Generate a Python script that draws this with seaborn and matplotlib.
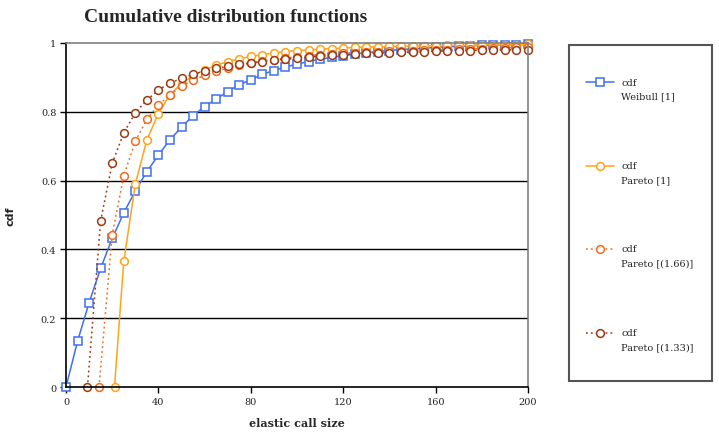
import matplotlib
matplotlib.use("Agg")
import matplotlib.pyplot as plt
import seaborn as sns
from matplotlib.lines import Line2D
from matplotlib.patches import Rectangle

# ---------------- data ----------------
x_weibull = [0, 5, 10, 15, 20, 25, 30, 35, 40, 45, 50, 55, 60, 65, 70, 75, 80, 85, 90, 95,
             100, 105, 110, 115, 120, 125, 130, 135, 140, 145, 150, 155, 160, 165, 170, 175,
             180, 185, 190, 195, 200]
y_weibull = [0, 0.133, 0.245, 0.345, 0.432, 0.506, 0.570, 0.626, 0.674, 0.719, 0.755, 0.789,
             0.815, 0.837, 0.859, 0.879, 0.893, 0.909, 0.920, 0.930, 0.939, 0.946, 0.953, 0.958,
             0.963, 0.968, 0.972, 0.975, 0.978, 0.981, 0.983, 0.985, 0.987, 0.989, 0.990, 0.992,
             0.993, 0.994, 0.995, 0.995, 0.997]

x_pareto1 = [21, 25, 30, 35, 40, 45, 50, 55, 60, 65, 70, 75, 80, 85, 90, 95, 100, 105, 110,
             115, 120, 125, 130, 135, 140, 145, 150, 155, 160, 165, 170, 175, 180, 185, 190,
             195, 200]
y_pareto1 = [0, 0.365, 0.590, 0.718, 0.795, 0.850, 0.882, 0.905, 0.922, 0.935, 0.946, 0.954,
             0.961, 0.966, 0.971, 0.975, 0.978, 0.980, 0.982, 0.984, 0.985, 0.987, 0.988, 0.989,
             0.990, 0.990, 0.991, 0.992, 0.992, 0.993, 0.993, 0.994, 0.994, 0.995, 0.995, 0.995,
             0.996]

x_pareto166 = [14.3, 20, 25, 30, 35, 40, 45, 50, 55, 60, 65, 70, 75, 80, 85, 90, 95, 100, 105,
               110, 115, 120, 125, 130, 135, 140, 145, 150, 155, 160, 165, 170, 175, 180, 185,
               190, 195, 200]
y_pareto166 = [0, 0.443, 0.614, 0.714, 0.778, 0.820, 0.849, 0.875, 0.892, 0.906, 0.918, 0.927,
               0.935, 0.941, 0.947, 0.952, 0.956, 0.960, 0.963, 0.966, 0.968, 0.970, 0.972, 0.974,
               0.975, 0.976, 0.977, 0.978, 0.979, 0.980, 0.981, 0.982, 0.983, 0.984, 0.985,
               0.986, 0.987, 0.988]

x_pareto133 = [9.3, 15, 20, 25, 30, 35, 40, 45, 50, 55, 60, 65, 70, 75, 80, 85, 90, 95, 100,
               105, 110, 115, 120, 125, 130, 135, 140, 145, 150, 155, 160, 165, 170, 175, 180,
               185, 190, 195, 200]
y_pareto133 = [0, 0.483, 0.650, 0.739, 0.797, 0.834, 0.863, 0.884, 0.897, 0.909, 0.919, 0.926,
               0.932, 0.938, 0.942, 0.946, 0.950, 0.953, 0.956, 0.959, 0.962, 0.964, 0.966,
               0.968, 0.970, 0.971, 0.972, 0.973, 0.974, 0.975, 0.976, 0.977, 0.977, 0.978,
               0.979, 0.979, 0.980, 0.980, 0.981]

series_labels = ["cdf\nWeibull [1]", "cdf\nPareto [1]", "cdf\nPareto [(1.66)]", "cdf\nPareto [(1.33)]"]
x_ticks = [0, 40, 80, 120, 160, 200]
y_ticks = [0, 0.2, 0.4, 0.6, 0.8, 1]
y_ticklabels = ["0", "0.2", "0.4", "0.6", "0.8", "1"]

# ---------------- styling ----------------
sns.set_theme(style="white")
plt.rcParams["font.family"] = ["DejaVu Serif", "DejaVu Sans"]

W, H = 719, 435
fig = plt.figure(figsize=(W / 100, H / 100), dpi=100)
ax = fig.add_axes([66 / W, 1 - 388 / H, (528 - 66) / W, (388 - 44) / H])

styles = [
    dict(x=x_weibull, y=y_weibull, color="#3f6ff0", marker="s", ls="-", ms=5.6),
    dict(x=x_pareto1, y=y_pareto1, color="#ffa31a", marker="o", ls="-", ms=5.6),
    dict(x=x_pareto166, y=y_pareto166, color="#f26b1d", marker="o", ls=(0, (1.2, 2.0)), ms=5.6),
    dict(x=x_pareto133, y=y_pareto133, color="#9c3a12", marker="o", ls=(0, (1.2, 2.0)), ms=5.6),
]

for st in styles:
    sns.lineplot(x=st["x"], y=st["y"], ax=ax, color=st["color"], marker=st["marker"],
                 linestyle=st["ls"], linewidth=1.1, markersize=st["ms"],
                 markerfacecolor="white", markeredgecolor=st["color"], markeredgewidth=1.1,
                 clip_on=False, estimator=None, sort=False)

ax.set_xlim(0, 200)
ax.set_ylim(0, 1)
ax.set_xticks(x_ticks)
ax.set_xticklabels([str(t) for t in x_ticks], fontsize=7)
ax.set_yticks(y_ticks)
ax.set_yticklabels(y_ticklabels, fontsize=7)
ax.tick_params(axis="both", direction="out", length=4, width=1, color="black",
               labelcolor="#222222", pad=3, bottom=True, left=True)
for yv in [0.2, 0.4, 0.6, 0.8]:
    ax.axhline(yv, color="black", lw=1, zorder=0.5)
ax.spines["left"].set_color("black")
ax.spines["bottom"].set_color("black")
ax.spines["top"].set_color("#808080")
ax.spines["right"].set_color("#808080")
for s in ax.spines.values():
    s.set_linewidth(1.2)
    s.set_visible(True)
ax.set_xlabel("elastic call size", fontsize=8, fontweight="bold", labelpad=8)
ax.set_ylabel("cdf", fontsize=8, fontweight="bold", family="DejaVu Sans")
ax.yaxis.set_label_coords((16 - 66) / (528 - 66), 0.5)

fig.text(226 / W, 1 - 17 / H, "Cumulative distribution functions", ha="center", va="center",
         fontsize=14, fontweight="bold", family="Liberation Serif")

# ---------------- legend box ----------------
fig.patches.append(Rectangle((569 / W, 1 - 382 / H), (712 - 569) / W, (382 - 46) / H,
                             transform=fig.transFigure, fill=False, edgecolor="#555555",
                             linewidth=1.5))
entry_y = [83, 167, 250, 334]
for st, lab, ey in zip(styles, series_labels, entry_y):
    yy = 1 - ey / H
    fig.lines.append(Line2D([586 / W, 614 / W], [yy, yy], transform=fig.transFigure,
                            color=st["color"], linestyle=st["ls"], linewidth=1.1))
    fig.lines.append(Line2D([600 / W], [yy], transform=fig.transFigure, color=st["color"],
                            marker=st["marker"], markersize=st["ms"], markerfacecolor="white",
                            markeredgecolor=st["color"], markeredgewidth=1.1, linestyle="none"))
    l1, l2 = lab.split("\n")
    fig.text(621 / W, yy, l1, ha="left", va="center", fontsize=7, color="#222222")
    fig.text(621 / W, 1 - (ey + 14) / H, l2, ha="left", va="center", fontsize=7, color="#222222")

fig.savefig("out.png", dpi=100)
